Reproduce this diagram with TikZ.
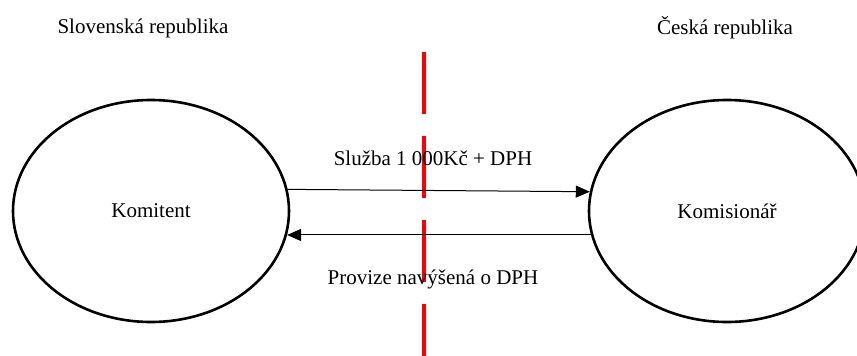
\documentclass[tikz,border=0pt]{standalone}
\usepackage{fontspec}
\setmainfont{Liberation Serif}
\usepackage{tikz}
\usetikzlibrary{positioning}
\usetikzlibrary{arrows.meta}
\usetikzlibrary{shapes.geometric}

\tikzset{
  party/.style={ellipse, draw, line width=2.6pt, minimum width=276pt, minimum height=222pt, inner sep=0pt},
  flow/.style={-{Triangle[length=14pt,width=12pt]}, line width=1pt},
  border/.style={red, line width=4pt, dash pattern=on 62pt off 22pt}
}

\begin{document}
\begin{tikzpicture}[x=1pt, y=-1pt, font=\fontsize{21}{25}\selectfont]
\useasboundingbox (0,0) rectangle (857,356);

% states
\node (sk) at (143, 28) {Slovenská republika};
\node (cz) at (725, 28) {Česká republika};

% border between states
\coordinate (top) at (424, 52);
\coordinate (bottom) at (424, 360);
\draw[border] (top) -- (bottom);

% parties
\node[party] (komitent) at (151, 211) {Komitent};
\node[party] (komisionar) at (727, 211) {Komisionář};

% flows
\draw[flow] (komitent.9) -- (komisionar.172);
\draw[flow] (komisionar.190) -- (komitent.350);

\node (sluzba) at (433, 158) {Služba 1 000Kč + DPH};
\node (provize) at (433, 279) {Provize navýšená o DPH};
\end{tikzpicture}
\end{document}
